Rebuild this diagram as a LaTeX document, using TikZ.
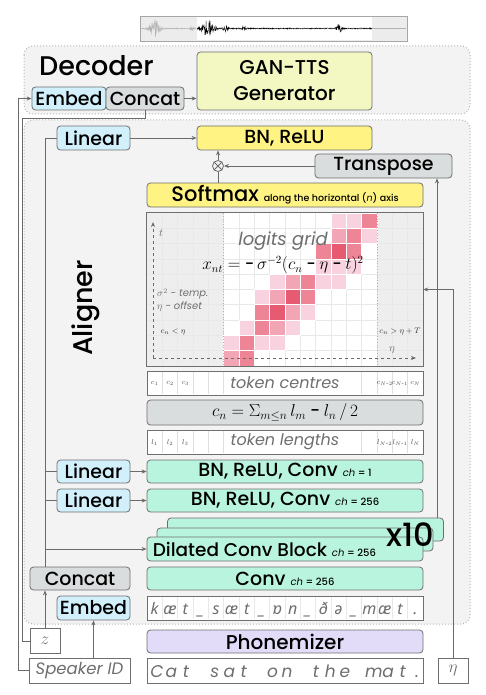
\documentclass[tikz,border=0pt]{standalone}
\usepackage{fontspec}
\setmainfont{Poppins}[UprightFont={* Medium}, ItalicFont={* Italic}]
\newfontfamily\ipafont{Noto Sans}
\usetikzlibrary{arrows.meta}

\newcommand{\setfs}[1]{\fontsize{#1}{#1}\selectfont}
\newcommand{\chlab}[1]{{\setfs{10}\textit{ch} = #1}}
\newcommand{\tinydash}{\mbox{\setfs{4.5}-}}

\definecolor{panelgray}{HTML}{F3F3F3}
\definecolor{edgegray}{HTML}{6F6F6F}
\definecolor{linegray}{HTML}{6A6A6A}
\definecolor{textgray}{HTML}{6E6E6E}
\definecolor{embedblue}{HTML}{D2F0FB}
\definecolor{concatgray}{HTML}{DADDDE}
\definecolor{bnyellow}{HTML}{FFF384}
\definecolor{ganyellow}{HTML}{F3F8C2}
\definecolor{convgreen}{HTML}{B9F5DE}
\definecolor{phonlilac}{HTML}{E3DCF9}
\definecolor{cellgray}{HTML}{EEEEEE}
\definecolor{pinkA}{HTML}{F8D3DF}
\definecolor{pinkB}{HTML}{F2A5B4}
\definecolor{pinkC}{HTML}{EE8597}
\definecolor{pinkD}{HTML}{E65A72}

\tikzset{
  panel/.style={draw=gray!55, dotted, line width=1pt, rounded corners=9pt, fill=panelgray},
  block/.style={draw=edgegray, line width=0.8pt, rounded corners=3.5pt, inner sep=0pt,
    minimum height=23pt, font=\setfs{19}},
  embedbox/.style={block, fill=embedblue},
  concatbox/.style={block, fill=concatgray},
  linbox/.style={block, fill=embedblue, minimum width=73pt},
  bnbox/.style={block, fill=bnyellow},
  convbox/.style={block, fill=convgreen, minimum width=276pt},
  rowbox/.style={draw=edgegray, line width=0.8pt, fill=white, inner sep=0pt, minimum width=276pt,
    minimum height=24pt, font={\setfs{16}\itshape}, text=textgray},
  tok/.style={inner sep=0pt, font=\setfs{8}, text=black!70},
  note/.style={inner sep=0pt, text=textgray, font={\setfs{10}\itshape}},
  conn/.style={draw=linegray, line width=0.8pt},
  arr/.style={conn, -{Stealth[length=5pt,width=4pt]}},
  axis/.style={draw=linegray, dashed, line width=0.8pt, -{Stealth[length=5pt,width=4pt]}}
}

\begin{document}
\begin{tikzpicture}[x=1pt,y=-1pt]
        \useasboundingbox (0,0) rectangle (485,695);

        % Waveform
        \pgfmathsetseed{7}
        \fill [gray!15] (140,16) rectangle (407,41);
        \fill [white] (197,16.5) rectangle (372,40.5);
        \draw [gray!60, line width=0.3pt] plot[domain=141:196, samples=220]
            (\x, {28.5 + (9*exp(-((\x-155)/5)^2) + 2*exp(-((\x-192)/2)^2) + 0.5)*rand});
        \draw [black, line width=0.35pt] plot[domain=197:372, samples=600]
            (\x, {28.5 + (9*exp(-((\x-208)/6)^2) + 3*exp(-((\x-226)/2.5)^2)
            + 2.5*exp(-((\x-244)/2)^2) + 4*exp(-((\x-339)/2.5)^2) + 0.6)*rand});
        \draw [gray!60, line width=0.3pt] (372,28.5) -- (406,28.5);
        \draw [gray!70, line width=0.8pt] (140,16) rectangle (407,41);

        % Panels
        \draw [panel] (24,46) rectangle (470,114);
        \draw [panel] (24,120) rectangle (470,624);
        \node [anchor=base west, inner sep=0pt, font=\setfs{27}] (declab) at (39,76) {Decoder};
        \node [rotate=90, inner sep=0pt, font=\setfs{27}] (allab) at (86,308) {Aligner};

        % Decoder
        \node [embedbox, minimum width=74pt] (dembed) at (69,98.5) {Embed};
        \node [concatbox, minimum width=78pt] (dconcat) at (145,98.5) {Concat};
        \node [block, fill=ganyellow, minimum width=175pt, minimum height=58pt, align=center,
            font={\fontsize{20}{26}\selectfont}] (gan) at (284.5,81) {GAN-TTS\\Generator};

        % Aligner, top
        \node [linbox, minimum height=24pt] (lin1) at (93.5,138) {Linear};
        \node [bnbox, minimum width=175pt, minimum height=24pt] (bnr) at (284.5,138) {BN, ReLU};
        \node [circle, draw=linegray, line width=0.8pt, minimum size=11pt, inner sep=0pt] (mul) at (218,166) {};
        \draw [linegray, line width=0.8pt] (mul.north west) -- (mul.south east);
        \draw [linegray, line width=0.8pt] (mul.north east) -- (mul.south west);
        \node [concatbox, minimum width=137pt, minimum height=24pt] (tr) at (383.5,166) {Transpose};
        \node [bnbox, minimum width=276pt, minimum height=24pt] (soft) at (285,195)
            {{\setfs{21}Softmax} {\setfs{9.5}along the horizontal (\textit{n}) axis}};

        % Logits grid
        \node [minimum width=276pt, minimum height=153pt, inner sep=0pt] (grid) at (285,289.5) {};
        \fill [white] (147,213) rectangle (423,366);
        \fill [cellgray] (147,213) rectangle (223.67,366);
        \fill [cellgray] (377,213) rectangle (423,366);
        \foreach \k in {1,...,17}
            \draw [gray!18, line width=0.7pt] ({147+\k*15.333},213) -- ({147+\k*15.333},366);
        \foreach \k in {1,...,9}
            \draw [gray!18, line width=0.7pt] (147,{213+\k*15.3}) -- (423,{213+\k*15.3});
        \foreach \col/\row/\lvl in {12/0/A, 13/0/A, 14/0/C, 12/1/B, 13/1/C, 14/1/A,
            11/2/C, 12/2/D, 13/2/C, 11/3/A, 12/3/A, 13/3/A,
            8/4/A, 9/4/B, 10/4/C, 11/4/A, 12/4/A, 7/5/A, 8/5/B, 9/5/D, 10/5/C,
            7/6/C, 8/6/D, 9/6/B, 10/6/A, 6/7/A, 7/7/C, 8/7/B, 9/7/A,
            5/8/A, 6/8/C, 7/8/A, 8/8/A, 5/9/B, 6/9/C}
            \draw [fill=pink\lvl, draw=white, line width=0.8pt]
                ({147+\col*15.333},{213+\row*15.3}) rectangle ++(15.333,15.3);
        \draw [gray!60, dotted, line width=0.8pt] (223.67,213) -- (223.67,366);
        \draw [gray!60, dotted, line width=0.8pt] (377,213) -- (377,366);
        \draw [edgegray, line width=0.8pt] (grid.north west) rectangle (grid.south east);

        % Axes and labels
        \coordinate (orig) at (153,358);
        \draw [axis] (orig) -- (153,222);
        \draw [axis] (orig) -- (416,358);
        \node [note, font=\setfs{11}] (tlab) at (161,233) {$t$};
        \node [note, font=\setfs{11}] (nlab) at (392,350) {$\eta$};
        \node [inner sep=0pt, text=textgray, font={\setfs{18}\itshape}] (gridlab) at (283,241) {logits grid};
        \node [inner sep=0pt, font=\setfs{16}] (gridform) at (283,265)
            {$x_{nt} = \mbox{-}\,\sigma^{-2}(c_n \mathbin{\mbox{-}} \eta \mathbin{\mbox{-}} t)^2$};
        \node [note, anchor=west] (temp) at (157,294) {$\sigma^2$ - temp.};
        \node [note, anchor=west] (offs) at (157,307) {$\eta$ - offset};
        \node [tok, text=black!80] (lowlab) at (173,332) {$c_n < \eta$};
        \node [tok, text=black!80] (highlab) at (400,332) {$c_n > \eta + T$};

        % Token rows
        \node [rowbox] (cent) at (285,383) {token centres};
        \node [block, fill=concatgray, minimum width=276pt, minimum height=25pt, font=\setfs{17}] (cform)
            at (285,412.5) {$c_n = \Sigma_{m \le n}\, l_m \mathbin{\mbox{-}} l_n \,/\, 2$};
        \node [rowbox] (lens) at (285,442) {token lengths};
        \foreach \k in {1,...,5,14,15,16,17} {
            \draw [gray!25, line width=0.6pt] ({147+\k*15.333},372) -- ({147+\k*15.333},394);
            \draw [gray!25, line width=0.6pt] ({147+\k*15.333},431) -- ({147+\k*15.333},453);
        }
        \foreach \k/\lab in {0/1, 1/2, 2/3, 15/{N\tinydash 2}, 16/{N\tinydash 1}, 17/N} {
            \node [tok, font=\setfs{7.5}] (c-\k) at ({147+(\k+0.5)*15.333},383.5) {$c_{\scriptscriptstyle\lab}$};
            \node [tok, font=\setfs{7.5}] (l-\k) at ({147+(\k+0.5)*15.333},442.5) {$l_{\scriptscriptstyle\lab}$};
        }

        % Conv stack
        \node [linbox] (lin2) at (93.5,471.5) {Linear};
        \node [convbox] (conv1) at (285,471.5) {BN, ReLU, Conv \chlab{1}};
        \node [linbox] (lin3) at (93.5,500.5) {Linear};
        \node [convbox] (conv2) at (285,500.5) {BN, ReLU, Conv \chlab{256}};
        \node [convbox] (dil3) at (305.5,529.5) {};
        \node [convbox] (dil2) at (295,539.5) {};
        \node [convbox, minimum height=24pt] (dil) at (285,549) {};
        \node [anchor=west, inner sep=0pt, font=\setfs{18.5}] (dillab) at ([xshift=6pt]dil.west)
            {Dilated Conv Block \chlab{256}};
        \node [inner sep=0pt, font=\setfs{32}] (times) at (410,535) {x10};
        \node [concatbox, minimum width=100pt] (concat) at (80,578.5) {Concat};
        \node [convbox] (conv0) at (285,578.5) {Conv \chlab{256}};

        % Phonemes
        \node [linbox, minimum height=24pt] (aembed) at (93.5,608) {Embed};
        \node [rowbox] (phon) at (285,608) {};
        \foreach \k in {1,...,17}
            \draw [gray!18, line width=0.6pt] ({147+\k*15.333},597) -- ({147+\k*15.333},619);
        \foreach \ch [count=\i from 0] in {k,æ,t,\_,s,æ,t,\_,ɒ,n,\_,ð,ə,\_,m,æ,t,.}
            \node [inner sep=0pt, text=textgray, font={\ipafont\setfs{16}\itshape}, anchor=base]
                (ph-\i) at ({147+(\i+0.5)*15.333},614) {\ch};

        % Inputs
        \node [block, fill=phonlilac, minimum width=276pt, font=\setfs{20}] (phz) at (285,641.5) {Phonemizer};
        \node [rowbox, minimum height=25pt] (sent) at (285,670.5) {};
        \foreach \ch [count=\i from 0] in {C,a,t, ,s,a,t, ,o,n, ,t,h,e, ,m,a,t,.}
            \node [inner sep=0pt, text=textgray, font={\setfs{17}\itshape}, anchor=base]
                (tx-\i) at ({157+\i*14.45},677) {\ch};
        \node [rowbox, minimum width=30pt, minimum height=25pt] (z) at (45,641) {$z$};
        \node [rowbox, minimum width=101pt, minimum height=25pt, font={\setfs{16.5}\itshape}] (spk)
            at (79.5,670.5) {Speaker ID};
        \node [rowbox, minimum width=30pt, minimum height=25pt] (eta) at (453,670.5) {$\eta$};

        % Connectors
        \draw [arr] (spk.west) -| (18,98.5) -- (dembed.west);
        \draw [conn] (z.west) -| (22,118) -| (dconcat.south);
        \draw [arr] (dconcat.east) -- (gan.west |- dconcat.east);
        \draw [arr] (z.north) -- (z.north |- concat.south);
        \draw [arr] (aembed.south |- spk.north) -- (aembed.south);
        \draw [conn] (z.north |- concat.north) |- (lin1.west);
        \draw [conn] (z.north |- lin2.west) -- (lin2.west);
        \draw [conn] (z.north |- lin3.west) -- (lin3.west);
        \draw [arr] (z.north |- dil.west) -- (dil.west);
        \draw [arr] (lin1.east) -- (bnr.west);
        \draw [arr] (lin2.east) -- (conv1.west);
        \draw [arr] (lin3.east) -- (conv2.west);
        \draw [conn] (mul.south |- soft.north) -- (mul.south);
        \draw [arr] (mul.north) -- (mul.north |- bnr.south);
        \draw [arr] (tr.west) -- (mul.east);
        \coordinate (tap) at (437,518);
        \draw [arr] (tap) -- (tap |- tr.south);
        \draw [arr] (eta.north) |- (grid.east);
\end{tikzpicture}
\end{document}
